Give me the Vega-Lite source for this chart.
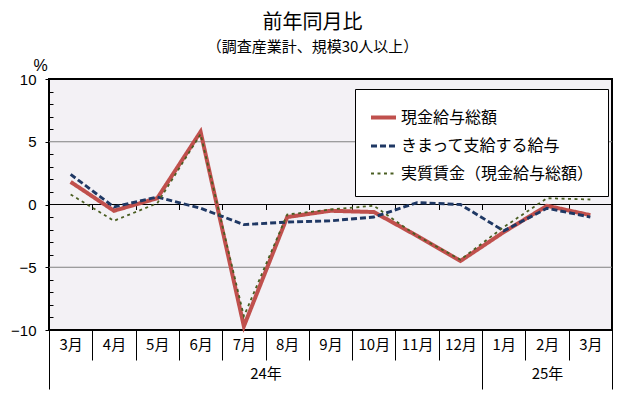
{
  "$schema": "https://vega.github.io/schema/vega-lite/v6.json",
  "width": 563,
  "height": 251,
  "autosize": "none",
  "padding": {"left": 49, "top": 79, "right": 18, "bottom": 70},
  "background": "white",
  "config": {
    "view": {"fill": "#f3f1f5", "stroke": "black", "strokeWidth": 2},
    "font": "Noto Sans CJK JP"
  },
  "title": {
    "text": "前年同月比",
    "subtitle": "（調査産業計、規模30人以上）",
    "font": "Noto Sans CJK JP",
    "subtitleFont": "Noto Sans CJK JP",
    "fontSize": 20,
    "fontWeight": "normal",
    "subtitleFontSize": 15,
    "subtitleColor": "black",
    "color": "black",
    "subtitlePadding": 7,
    "anchor": "middle",
    "dx": -18,
    "offset": 2
  },
  "data": {
    "values": [
      {"idx": 0, "s": "現金給与総額", "v": 1.8},
      {"idx": 1, "s": "現金給与総額", "v": -0.5},
      {"idx": 2, "s": "現金給与総額", "v": 0.5},
      {"idx": 3, "s": "現金給与総額", "v": 5.8},
      {"idx": 4, "s": "現金給与総額", "v": -9.7},
      {"idx": 5, "s": "現金給与総額", "v": -1.0},
      {"idx": 6, "s": "現金給与総額", "v": -0.5},
      {"idx": 7, "s": "現金給与総額", "v": -0.6},
      {"idx": 8, "s": "現金給与総額", "v": -2.5},
      {"idx": 9, "s": "現金給与総額", "v": -4.5},
      {"idx": 10, "s": "現金給与総額", "v": -2.2},
      {"idx": 11, "s": "現金給与総額", "v": -0.1},
      {"idx": 12, "s": "現金給与総額", "v": -0.85},
      {"idx": 0, "s": "きまって支給する給与", "v": 2.4},
      {"idx": 1, "s": "きまって支給する給与", "v": -0.2},
      {"idx": 2, "s": "きまって支給する給与", "v": 0.6},
      {"idx": 3, "s": "きまって支給する給与", "v": -0.3},
      {"idx": 4, "s": "きまって支給する給与", "v": -1.6},
      {"idx": 5, "s": "きまって支給する給与", "v": -1.4},
      {"idx": 6, "s": "きまって支給する給与", "v": -1.3},
      {"idx": 7, "s": "きまって支給する給与", "v": -1.0},
      {"idx": 8, "s": "きまって支給する給与", "v": 0.15},
      {"idx": 9, "s": "きまって支給する給与", "v": 0.0},
      {"idx": 10, "s": "きまって支給する給与", "v": -2.1},
      {"idx": 11, "s": "きまって支給する給与", "v": -0.3},
      {"idx": 12, "s": "きまって支給する給与", "v": -1.0},
      {"idx": 0, "s": "実質賃金（現金給与総額）", "v": 0.8},
      {"idx": 1, "s": "実質賃金（現金給与総額）", "v": -1.3},
      {"idx": 2, "s": "実質賃金（現金給与総額）", "v": 0.1},
      {"idx": 3, "s": "実質賃金（現金給与総額）", "v": 5.6},
      {"idx": 4, "s": "実質賃金（現金給与総額）", "v": -8.9},
      {"idx": 5, "s": "実質賃金（現金給与総額）", "v": -0.8},
      {"idx": 6, "s": "実質賃金（現金給与総額）", "v": -0.4},
      {"idx": 7, "s": "実質賃金（現金給与総額）", "v": -0.1},
      {"idx": 8, "s": "実質賃金（現金給与総額）", "v": -2.5},
      {"idx": 9, "s": "実質賃金（現金給与総額）", "v": -4.4},
      {"idx": 10, "s": "実質賃金（現金給与総額）", "v": -1.8},
      {"idx": 11, "s": "実質賃金（現金給与総額）", "v": 0.5},
      {"idx": 12, "s": "実質賃金（現金給与総額）", "v": 0.4}
    ]
  },
  "layer": [
    {
      "data": {"values": [{"lvl": 5}, {"lvl": -5}]},
      "mark": {"type": "rule", "color": "#808080", "strokeWidth": 1},
      "encoding": {
        "y": {"field": "lvl", "type": "quantitative", "scale": {"domain": [-10, 10]}, "axis": null}
      }
    },
    {
      "data": {"values": [{"lvl": 0}]},
      "mark": {"type": "rule", "color": "black", "strokeWidth": 1},
      "encoding": {
        "y": {"field": "lvl", "type": "quantitative", "scale": {"domain": [-10, 10]}, "axis": null}
      }
    },
    {
      "mark": {"type": "line", "strokeCap": "butt"},
      "encoding": {
        "x": {
          "field": "idx", "type": "quantitative",
          "scale": {"domain": [-0.5, 12.5], "nice": false, "zero": false},
          "axis": {
            "orient": "bottom", "values": [0,1,2,3,4,5,6,7,8,9,10,11,12],
            "labelExpr": "['3月','4月','5月','6月','7月','8月','9月','10月','11月','12月','1月','2月','3月'][datum.value]",
            "ticks": false, "domain": false, "grid": false, "title": null,
            "labelFontSize": 15, "labelColor": "black", "labelPadding": 7,
            "labelFont": "Noto Sans CJK JP", "labelFlush": false, "labelOverlap": false
          }
        },
        "y": {
          "field": "v", "type": "quantitative",
          "scale": {"domain": [-10, 10], "nice": false},
          "axis": {
            "orient": "left", "values": [-10, -5, 0, 5, 10],
            "domain": false, "grid": false, "tickSize": 4, "tickColor": "black",
            "labelPadding": 9, "labelFontSize": 15, "labelFont": "Liberation Sans", "labelColor": "black",
            "title": "%", "titleAngle": 0, "titleX": -9, "titleY": -6, "titleAlign": "center",
            "titleBaseline": "bottom", "titleFontSize": 16, "titleFontWeight": "normal", "titleFont": "Liberation Sans", "titleColor": "black"
          }
        },
        "color": {
          "field": "s", "type": "nominal",
          "scale": {"domain": ["現金給与総額", "きまって支給する給与", "実質賃金（現金給与総額）"], "range": ["#c0504d", "#1f3864", "#4a5e22"]},
          "legend": {
            "orient": "none", "legendX": 306, "legendY": 10, "title": null,
            "fillColor": "white", "strokeColor": "black", "padding": 14,
            "symbolType": "stroke", "symbolSize": 625, "labelFontSize": 16,
            "labelFont": "Noto Sans CJK JP", "labelColor": "black", "rowPadding": 6, "labelOffset": 3, "labelLimit": 400
          }
        },
        "strokeDash": {
          "field": "s", "type": "nominal",
          "scale": {"domain": ["現金給与総額", "きまって支給する給与", "実質賃金（現金給与総額）"], "range": [[1, 0], [6, 3], [3, 3.5]]},
          "legend": {
            "orient": "none", "legendX": 306, "legendY": 10, "title": null,
            "fillColor": "white", "strokeColor": "black", "padding": 14,
            "symbolType": "stroke", "symbolSize": 625, "labelFontSize": 16,
            "labelFont": "Noto Sans CJK JP", "labelColor": "black", "rowPadding": 6, "labelOffset": 3, "labelLimit": 400
          }
        },
        "strokeWidth": {
          "field": "s", "type": "nominal",
          "scale": {"domain": ["現金給与総額", "きまって支給する給与", "実質賃金（現金給与総額）"], "range": [4, 1.8, 3.2]},
          "legend": {
            "orient": "none", "legendX": 306, "legendY": 10, "title": null,
            "fillColor": "white", "strokeColor": "black", "padding": 14,
            "symbolType": "stroke", "symbolSize": 625, "labelFontSize": 16,
            "labelFont": "Noto Sans CJK JP", "labelColor": "black", "rowPadding": 6, "labelOffset": 3, "labelLimit": 400
          }
        }
      }
    },
    {
      "mark": {"type": "point", "opacity": 0},
      "encoding": {
        "x": {
          "field": "idx", "type": "quantitative",
          "scale": {"domain": [-0.5, 12.5], "nice": false, "zero": false},
          "axis": {
            "orient": "bottom", "values": [-0.5,0.5,1.5,2.5,3.5,4.5,5.5,6.5,7.5,8.5,9.5,10.5,11.5,12.5],
            "labels": false, "domain": false, "grid": false, "title": null,
            "ticks": true, "tickColor": "black", "tickWidth": 1,
            "tickSize": {"condition": {"test": "datum.value == -0.5 || datum.value == 9.5 || datum.value == 12.5", "value": 59}, "value": 30}
          }
        },
        "y": {
          "field": "v", "type": "quantitative",
          "scale": {"domain": [-10, 10], "nice": false},
          "axis": {
            "orient": "left", "values": [-9,-8,-7,-6,-4,-3,-2,-1,1,2,3,4,6,7,8,9],
            "labels": false, "domain": false, "grid": false, "title": null,
            "tickSize": -4, "tickColor": "black"
          }
        }
      }
    },
    {
      "mark": {"type": "point", "opacity": 0},
      "encoding": {
        "x": {
          "field": "idx", "type": "quantitative",
          "scale": {"domain": [-0.5, 12.5], "nice": false, "zero": false},
          "axis": {
            "orient": "bottom", "values": [4.5, 11],
            "labelExpr": "datum.value < 8 ? '24年' : '25年'",
            "ticks": false, "domain": false, "grid": false, "title": null,
            "labelFontSize": 15, "labelColor": "black", "labelPadding": 36,
            "labelFont": "Noto Sans CJK JP", "labelFlush": false, "labelOverlap": false
          }
        },
        "y": {"field": "v", "type": "quantitative", "scale": {"domain": [-10, 10], "nice": false}, "axis": null}
      }
    },
    {
      "mark": {"type": "point", "opacity": 0},
      "encoding": {
        "x": {
          "field": "idx", "type": "quantitative",
          "scale": {"domain": [-0.5, 12.5], "nice": false, "zero": false},
          "axis": {
            "orient": "bottom", "offset": -125.5,
            "values": [0.5,1.5,2.5,3.5,4.5,5.5,6.5,7.5,8.5,9.5,10.5,11.5],
            "labels": false, "domain": false, "grid": false, "title": null,
            "ticks": true, "tickSize": 5, "tickColor": "black", "tickWidth": 1
          }
        },
        "y": {"field": "v", "type": "quantitative", "scale": {"domain": [-10, 10], "nice": false}, "axis": null}
      }
    }
  ],
  "resolve": {"axis": {"x": "independent", "y": "independent"}}
}
